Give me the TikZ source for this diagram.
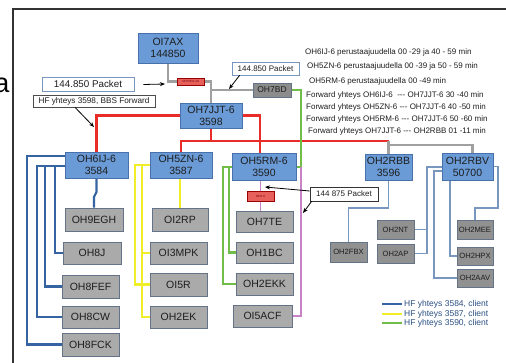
\documentclass[tikz,border=0pt]{standalone}
\usepackage{fontspec}
\setmainfont{Liberation Sans}
\usetikzlibrary{arrows.meta,backgrounds}
\definecolor{hubfill}{RGB}{106,155,214}
\definecolor{hubdraw}{RGB}{72,112,170}
\definecolor{clifill}{RGB}{170,170,170}
\definecolor{clidraw}{RGB}{100,115,135}
\definecolor{darkfill}{RGB}{140,140,140}
\definecolor{rbvfill}{RGB}{145,145,145}
\definecolor{redfill}{RGB}{232,96,92}
\definecolor{redline}{RGB}{232,44,40}
\definecolor{grayline}{RGB}{160,160,160}
\definecolor{blueline}{RGB}{54,100,162}
\definecolor{yelline}{RGB}{240,238,40}
\definecolor{greenline}{RGB}{112,190,72}
\definecolor{violine}{RGB}{200,130,200}
\definecolor{steelline}{RGB}{120,150,190}
\definecolor{framec}{RGB}{50,50,50}
\definecolor{txt}{RGB}{30,30,30}
\tikzset{
  hub/.style={draw=hubdraw, fill=hubfill, line width=0.6pt, inner sep=0pt, align=center, text=txt, font=\fontsize{10.5}{12}\selectfont},
  cli/.style={draw=clidraw, fill=clifill, line width=0.6pt, inner sep=0pt, text=txt, font=\fontsize{10.5}{12}\selectfont},
  dcli/.style={draw=clidraw, fill=darkfill, line width=0.6pt, inner sep=0pt, text=txt, font=\fontsize{8.5}{10}\selectfont},
  scli/.style={draw=clidraw, fill=rbvfill, line width=0.6pt, inner sep=0pt, text=txt, font=\fontsize{7.6}{9}\selectfont},
  rednode/.style={draw=red!60!black, fill=redfill, line width=0.4pt, inner sep=0pt, text=red!40!black, font=\fontsize{3}{3}\selectfont},
  lbl/.style={draw=#1, fill=white, line width=0.7pt, inner sep=0pt, text=txt},
  redl/.style={draw=redline, line width=2.6pt},
  grayl/.style={draw=grayline, line width=2.6pt},
  bluel/.style={draw=blueline, line width=2.2pt},
  yell/.style={draw=yelline, line width=2.4pt},
  greenl/.style={draw=greenline, line width=2.2pt},
  violl/.style={draw=violine, line width=1.8pt},
  steell/.style={draw=steelline, line width=1.3pt},
  arr/.style={draw=black, line width=0.8pt, -{Stealth[length=5pt,width=4pt]}},
  note/.style={anchor=west, inner sep=0pt, text=txt, font=\fontsize{8}{9}\selectfont},
  legt/.style={anchor=west, inner sep=0pt, text=blueline!80!black, font=\fontsize{8.5}{9}\selectfont}
}
\begin{document}
\begin{tikzpicture}[x=1pt,y=-1pt]
\useasboundingbox (0,0) rectangle (506,363);
% frame fragment
\draw[framec, line width=1.4pt] (506,9) -- (13,9) -- (13,363);
\node[anchor=base east, inner sep=0pt, font=\fontsize{27}{27}\selectfont] (frag) at (9.5,93) {a};

% hubs
\node[hub, minimum width=60pt, minimum height=30pt] (ai7) at (168,48) {OI7AX\\144850};
\node[hub, minimum width=62pt, minimum height=25pt] (jjt) at (211,115.5) {OH7JJT-6\\3598};
\node[hub, minimum width=63pt, minimum height=26pt] (ij6) at (96.5,165) {OH6IJ-6\\3584};
\node[hub, minimum width=62pt, minimum height=26pt] (zn) at (181,165) {OH5ZN-6\\3587};
\node[hub, minimum width=64pt, minimum height=27pt] (rm) at (264,166.5) {OH5RM-6\\3590};
\node[hub, minimum width=47pt, minimum height=26pt] (rbb) at (388.5,167) {OH2RBB\\3596};
\node[hub, minimum width=51pt, minimum height=27pt] (rbv) at (467.5,166.5) {OH2RBV\\50700};

% small nodes
\node[rednode, minimum width=27pt, minimum height=7pt] (r1) at (190.5,81.5) {OH7RDJ-10};
\node[rednode, minimum width=27pt, minimum height=10pt] (r2) at (260.5,196.5) {OH2-5};
\node[dcli, minimum width=38pt, minimum height=14pt] (bd) at (272,90) {OH7BD};

% labels
\node[lbl=steelline, minimum width=92pt, minimum height=14pt, font=\fontsize{9.8}{11}\selectfont] (pk1) at (88,84.5) {144.850 Packet};
\node[lbl=black!70, minimum width=122pt, minimum height=12pt, font=\fontsize{8.2}{9}\selectfont] (hf) at (94,101) {HF yhteys 3598, BBS Forward};
\node[lbl=steelline, minimum width=67pt, minimum height=13pt, font=\fontsize{8}{9}\selectfont] (pk2) at (265.5,68.5) {144.850 Packet};
\node[lbl=black!80, minimum width=68pt, minimum height=14pt, font=\fontsize{8}{9}\selectfont] (pk3) at (344,194) {144 875 Packet};

% OH6IJ-6 clients
\node[cli, minimum width=58pt, minimum height=23pt] (egh) at (94,219.5) {OH9EGH};
\node[cli, minimum width=58pt, minimum height=22pt] (j8) at (92,253) {OH8J};
\node[cli, minimum width=57pt, minimum height=23pt] (fef) at (90.5,286.5) {OH8FEF};
\node[cli, minimum width=57pt, minimum height=22pt] (cw) at (90.5,317) {OH8CW};
\node[cli, minimum width=57pt, minimum height=23pt] (fck) at (90.5,344.5) {OH8FCK};
% OH5ZN-6 clients
\node[cli, minimum width=56pt, minimum height=23pt] (rp) at (180,219.5) {OI2RP};
\node[cli, minimum width=57pt, minimum height=22pt] (mpk) at (178.5,253) {OI3MPK};
\node[cli, minimum width=57pt, minimum height=23pt] (r5) at (178.5,284.5) {OI5R};
\node[cli, minimum width=57pt, minimum height=22pt] (ek) at (178.5,317) {OH2EK};
% OH5RM-6 clients
\node[cli, minimum width=57pt, minimum height=21pt] (te) at (264.5,221.5) {OH7TE};
\node[cli, minimum width=57pt, minimum height=21pt] (bc) at (264.5,252.5) {OH1BC};
\node[cli, minimum width=57pt, minimum height=22pt] (ekk) at (264.5,284) {OH2EKK};
\node[cli, minimum width=59pt, minimum height=22pt] (acf) at (262.5,316) {OI5ACF};
% RBB / RBV clients
\node[scli, minimum width=37pt, minimum height=20pt] (fbx) at (348.5,252) {OH2FBX};
\node[scli, minimum width=37pt, minimum height=19pt] (nt) at (395.5,229.5) {OH2NT};
\node[scli, minimum width=37pt, minimum height=19pt] (ap) at (395.5,253.5) {OH2AP};
\node[scli, minimum width=36pt, minimum height=19pt] (mee) at (475,229.5) {OH2MEE};
\node[scli, minimum width=36pt, minimum height=18pt] (hpx) at (475,256) {OH2HPX};
\node[scli, minimum width=36pt, minimum height=18pt] (aav) at (475,278) {OH2AAV};

% notes
\node[note] (n1) at (305,52) {OH6IJ-6 perustaajuudella 00 -29 ja 40 - 59 min};
\node[note] (n2) at (307,66) {OH5ZN-6 perustaajuudella 00 -39 ja 50 - 59 min};
\node[note] (n3) at (309,81) {OH5RM-6 perustaajuudella 00 -49 min};
\node[note] (n4) at (306,95) {Forward yhteys OH6IJ-6\ \ -{}-{}- OH7JJT-6 30 -40 min};
\node[note] (n5) at (306,107.5) {Forward yhteys OH5ZN-6 -{}-{}- OH7JJT-6 40 -50 min};
\node[note] (n6) at (306,119.5) {Forward yhteys OH5RM-6 -{}-{}- OH7JJT-6 50 -60 min};
\node[note] (n7) at (308,131.5) {Forward yhteys OH7JJT-6 -{}-{}- OH2RBB 01 -11 min};

% legend
\draw[draw=blueline, line width=2pt] (382,304) -- (402,304);
\draw[draw=yelline, line width=2pt] (382,314) -- (402,314);
\draw[draw=greenline, line width=2pt] (382,323) -- (402,323);
\node[legt] (lg1) at (404,304) {HF yhteys 3584, client};
\node[legt] (lg2) at (404,314) {HF yhteys 3587, client};
\node[legt] (lg3) at (404,323) {HF yhteys 3590, client};

% coordinates
\coordinate (rj) at (211,141);
\coordinate (rr) at (388.5,141);
\coordinate (gb) at (388.5,145);
\coordinate (g1) at (301,167);
\coordinate (gl1) at (223,167);
\coordinate (gl2) at (229,167);
\coordinate (b0) at (27,156);
\coordinate (b1) at (37,166);
\coordinate (b2) at (45,166);
\coordinate (b3) at (55,166);
\coordinate (bj1) at (96.5,192);
\coordinate (bj2) at (94,197);
\coordinate (y1) at (135,165);
\coordinate (y2) at (142,165);
\coordinate (s1) at (348.5,208);
\coordinate (s2) at (427,167);
\coordinate (s3) at (434,171);
\coordinate (s5) at (498,208);
\coordinate (a1) at (165,84);
\coordinate (a2) at (94,127);
\coordinate (a3) at (229,89);
\coordinate (a4) at (265,187);
\coordinate (a5) at (303,213);

\begin{pgfonlayer}{background}
\fill[white] (0,0) rectangle (506,363);
% gray top
\draw[grayl] (ai7.south) |- (r1.west);
\draw[grayl] (r1.east) -| (jjt.north);
\draw[grayl] (bd.west) -- (bd.west -| jjt.north);
% red
\draw[redl] (jjt.west) -| (ij6.north);
\draw[redl] (jjt.east) -| (rm.north -| 260,0);
\draw[redl] (jjt.south) -- (rj);
\draw[redl] (zn.north) |- (rj) -- (rr);
\draw[grayl] (rr) -- (rbb.north);
\draw[grayl] (gb) -| ([xshift=5pt]rbv.north);
% green
\draw[greenl] (bd.east) -| (g1) -- (rm.east |- g1);
\draw[greenl] (rm.west |- gl1) -- (gl1) |- (ekk.west);
\draw[greenl] (gl2) |- (bc.west);
% violet
\draw[violl] (g1) |- (acf.east);
\draw[violl] (r2.north) -- (r2.north |- rm.south);
\draw[violl] (r2.south) -- (r2.south |- te.north);
% blue
\draw[bluel] (ij6.west |- b0) -- (b0) |- (fck.west);
\draw[bluel] (ij6.west |- b1) -- (b1) |- (cw.west);
\draw[bluel] (b2) |- (fef.west);
\draw[bluel] (b3) |- (j8.west);
\draw[bluel] (ij6.south) -- (bj1) -- (bj2) -- (egh.north -| bj2);
% yellow
\draw[yell] (rp.north) -- (rp.north |- zn.south);
\draw[yell] (zn.west) -- (y1) |- (r5.west);
\draw[yell] (y2) |- (ek.west);
\draw[yell] (y2 |- mpk.west) -- (mpk.west);
% steel
\draw[steell] (rbb.south) |- (s1) -- (fbx.north);
\draw[steell] (rbv.west |- s2) -- (s2) |- (ap.east);
\draw[steell] (nt.east) -- (nt.east -| s2);
\draw[steell] (rbv.west |- s3) -- (s3) |- (aav.west);
\draw[steell] (rbv.south -| 450,0) |- (hpx.west);
\draw[steell] (rbv.east) -| (s5) -| (mee.north);
\end{pgfonlayer}

% arrows
\draw[arr] ([xshift=9pt]pk1.east) -- (a1);
\draw[arr] ([xshift=-19pt]hf.south) -- (a2);
\draw[arr] ([xshift=8pt]pk2.south west) -- (a3);
\draw[arr] ([yshift=3pt]pk3.west) -- (a4);
\draw[arr] ([xshift=2pt]pk3.south west) -- (a5);
\end{tikzpicture}
\end{document}
